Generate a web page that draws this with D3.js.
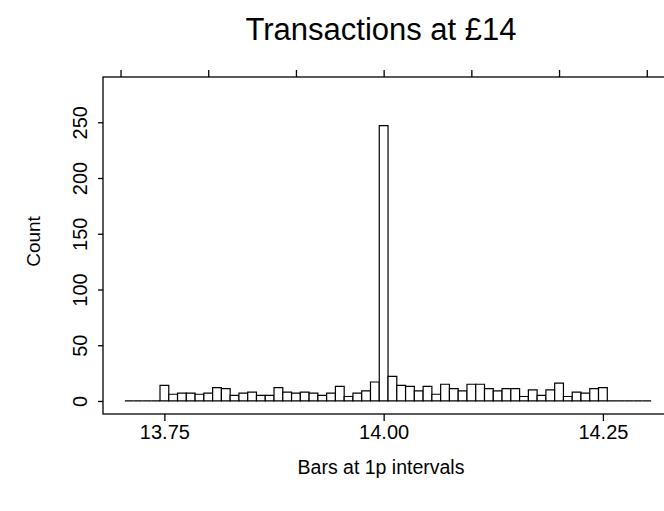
<!DOCTYPE html>
<html>
<head>
<meta charset="utf-8">
<script src="https://cdn.jsdelivr.net/npm/d3@7"></script>
<style>
  html, body { margin: 0; padding: 0; background: #fff; }
  svg { display: block; font-family: "Liberation Sans", Arial, Helvetica, sans-serif; }
</style>
</head>
<body>
<svg id="chart" width="664" height="511"></svg>
<script>
// Price bins (£, 1p wide) and the number of transactions in each
const bins = [
  13.71, 13.72, 13.73, 13.74, 13.75, 13.76, 13.77, 13.78, 13.79, 13.80,
  13.81, 13.82, 13.83, 13.84, 13.85, 13.86, 13.87, 13.88, 13.89, 13.90,
  13.91, 13.92, 13.93, 13.94, 13.95, 13.96, 13.97, 13.98, 13.99, 14.00,
  14.01, 14.02, 14.03, 14.04, 14.05, 14.06, 14.07, 14.08, 14.09, 14.10,
  14.11, 14.12, 14.13, 14.14, 14.15, 14.16, 14.17, 14.18, 14.19, 14.20,
  14.21, 14.22, 14.23, 14.24, 14.25, 14.26, 14.27, 14.28, 14.29, 14.30
];
const counts = [
  0, 0, 0, 0, 14, 6, 7, 7, 6, 7,
  12, 11, 5, 7, 8, 5, 5, 12, 8, 7,
  8, 7, 5, 7, 13, 4, 7, 9, 17, 247,
  22, 14, 13, 9, 13, 6, 15, 11, 9, 15,
  15, 11, 9, 11, 11, 4, 10, 5, 10, 16,
  4, 8, 7, 11, 12, 0, 0, 0, 0, 0
];
const xTicksBottom = [13.75, 14.00, 14.25];
const xTicksTop = [13.7, 13.8, 13.9, 14.0, 14.1, 14.2, 14.3];
const yTicks = [0, 50, 100, 150, 200, 250];
const binWidth = 0.01;

const title = "Transactions at £14";
const xTitle = "Bars at 1p intervals";
const yTitle = "Count";

const svg = d3.select("#chart");
const box = { left: 103, top: 77, right: 665, bottom: 414 };

const x = d3.scaleLinear().domain([13.68, 14.3208]).range([box.left, box.right]);
const y = d3.scaleLinear().domain([-11.7, 290.6]).range([box.bottom, box.top]);

// plot frame
svg.append("rect")
  .attr("x", box.left).attr("y", box.top)
  .attr("width", box.right - box.left).attr("height", box.bottom - box.top)
  .attr("fill", "none").attr("stroke", "#000").attr("stroke-width", 1.3);

// histogram bars (empty bins still show their floor line)
svg.append("g").selectAll("path")
  .data(bins.map((b, i) => ({ b, c: counts[i] })))
  .join("path")
  .attr("d", d => {
    const x0 = x(d.b - binWidth / 2), x1 = x(d.b + binWidth / 2);
    const y0 = y(0), y1 = y(d.c);
    return `M${x0},${y0}V${y1}H${x1}V${y0}Z`;
  })
  .attr("fill", "#fff")
  .attr("stroke", "#000")
  .attr("stroke-width", 1.2);

// axes
const fmt = d3.format(".2f");
const bottomAxis = d3.axisBottom(x).tickValues(xTicksBottom).tickFormat(fmt)
  .tickSize(7).tickPadding(4);
const gb = svg.append("g").attr("transform", `translate(0,${box.bottom})`).call(bottomAxis);

const topAxis = d3.axisTop(x).tickValues(xTicksTop).tickFormat("").tickSize(7);
const gt = svg.append("g").attr("transform", `translate(0,${box.top})`).call(topAxis);

const leftAxis = d3.axisLeft(y).tickValues(yTicks).tickSize(5);
const gl = svg.append("g").attr("transform", `translate(${box.left},0)`).call(leftAxis);

[gb, gt, gl].forEach(g => {
  g.select(".domain").remove();
  g.selectAll(".tick line").attr("stroke", "#000").attr("stroke-width", 1.3);
  g.selectAll("text").attr("fill", "#000").attr("font-family", null);
});
gb.selectAll("text").attr("font-size", 20);
gl.selectAll(".tick text")
  .attr("font-size", 20)
  .attr("text-anchor", "middle")
  .attr("x", null).attr("dy", null)
  .attr("transform", "translate(-16,0) rotate(-90)");

// titles
svg.append("text")
  .attr("x", 381).attr("y", 40)
  .attr("text-anchor", "middle").attr("font-size", 31)
  .text(title);
svg.append("text")
  .attr("x", 381).attr("y", 474)
  .attr("text-anchor", "middle").attr("font-size", 19.5)
  .text(xTitle);
svg.append("text")
  .attr("transform", `translate(40,${(box.top + box.bottom) / 2 - 4}) rotate(-90)`)
  .attr("text-anchor", "middle").attr("font-size", 19)
  .text(yTitle);
</script>
</body>
</html>
